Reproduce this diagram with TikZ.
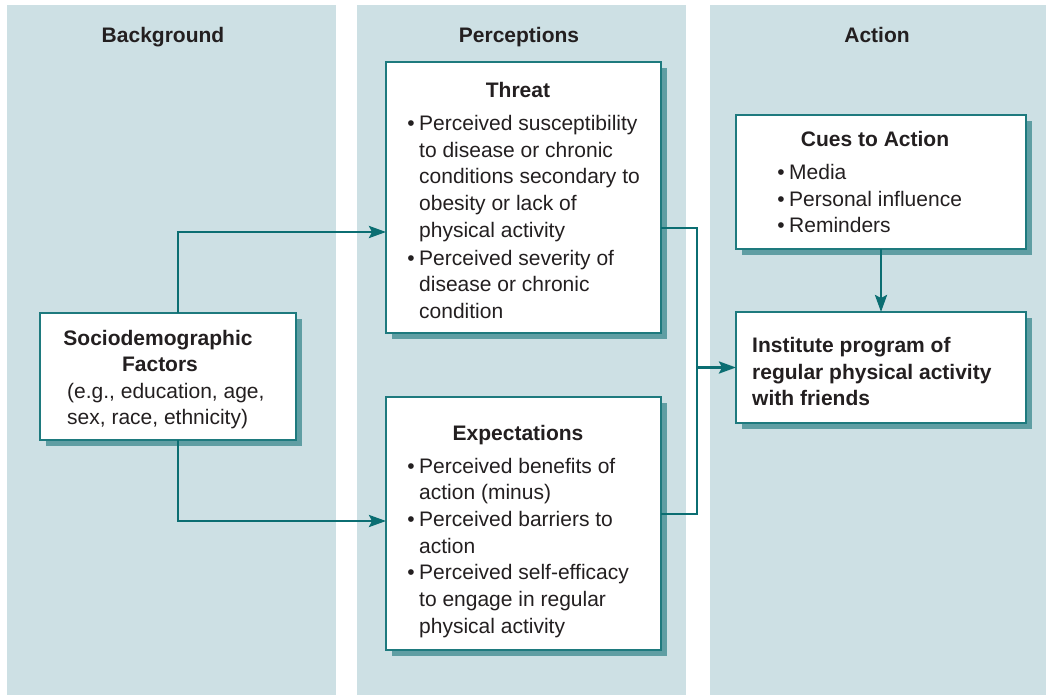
\documentclass[tikz,border=0pt]{standalone}
\usepackage{fontspec}
\setmainfont{Liberation Sans}
\usetikzlibrary{arrows.meta,shadows,calc}
\definecolor{colfill}{HTML}{CDE0E4}
\definecolor{boxline}{HTML}{1E7A7E}
\definecolor{shadowc}{HTML}{5F9EA3}
\definecolor{connc}{HTML}{0B6E72}
\definecolor{txt}{HTML}{231F20}
\newcommand{\bodyfont}{\fontsize{21}{26}\selectfont}
\tikzset{
  column/.style={fill=colfill, draw=none},
  box/.style={draw=boxline, fill=white, line width=1.3pt, anchor=north west,
    inner sep=0pt, outer sep=0pt,
    drop shadow={shadow xshift=6pt, shadow yshift=-6pt, fill=shadowc, opacity=1}},
  conn/.style={draw=connc, line width=2.7pt},
  arr/.style={conn, -{Stealth[length=17pt,width=12pt,inset=3pt]}},
  head/.style={font=\bodyfont\bfseries, text=txt, anchor=base},
  ttl/.style={font=\bodyfont\bfseries, text=txt, anchor=base},
  line/.style={font=\bodyfont, text=txt, anchor=base west, inner sep=0pt},
  bline/.style={font=\bodyfont\bfseries, text=txt, anchor=base west, inner sep=0pt},
  bul/.style={font=\bodyfont, text=txt, anchor=base east, inner sep=0pt, xshift=-4pt},
}
\begin{document}
\begin{tikzpicture}[x=1pt, y=-1pt]
\useasboundingbox (0,0) rectangle (1046,695);
\fill[white] (0,0) rectangle (1046,695);

% three column bands
\path[column] (7,5) rectangle (336,695);
\path[column] (357,5) rectangle (686,695);
\path[column] (710,5) rectangle (1046,695);

\node[head] (hbg) at (163,43) {Background};
\node[head] (hpc) at (519,43) {Perceptions};
\node[head] (hac) at (877,43) {Action};

% boxes
\node[box, minimum width=256pt, minimum height=127pt] (socio) at (40,313) {};
\node[box, minimum width=275pt, minimum height=271pt] (threat) at (386,62) {};
\node[box, minimum width=275pt, minimum height=253pt] (expect) at (386,397) {};
\node[box, minimum width=290pt, minimum height=134pt] (cues) at (736,115) {};
\node[box, minimum width=290pt, minimum height=111pt] (inst) at (736,312) {};

% Sociodemographic text
\node[ttl] (s1) at (158,345) {Sociodemographic};
\node[ttl] (s2) at (160,371) {Factors};
\node[line] (s3) at (67,398) {(e.g., education, age,};
\node[line] (s4) at (67,424) {sex, race, ethnicity)};

% Threat text
\node[ttl] (t0) at (518,98) {Threat};
\node[bul] (tb1) at (419,131) {•};
\node[line] (t1) at (419,131) {Perceived susceptibility};
\node[line] (t2) at (419,158) {to disease or chronic};
\node[line] (t3) at (419,184) {conditions secondary to};
\node[line] (t4) at (419,211) {obesity or lack of};
\node[line] (t5) at (419,237) {physical activity};
\node[bul] (tb2) at (419,265) {•};
\node[line] (t6) at (419,265) {Perceived severity of};
\node[line] (t7) at (419,291) {disease or chronic};
\node[line] (t8) at (419,318) {condition};

% Expectations text
\node[ttl] (e0) at (518,440) {Expectations};
\node[bul] (eb1) at (419,473) {•};
\node[line] (e1) at (419,473) {Perceived benefits of};
\node[line] (e2) at (419,499) {action (minus)};
\node[bul] (eb2) at (419,526) {•};
\node[line] (e3) at (419,526) {Perceived barriers to};
\node[line] (e4) at (419,553) {action};
\node[bul] (eb3) at (419,579) {•};
\node[line] (e5) at (419,579) {Perceived self-efficacy};
\node[line] (e6) at (419,606) {to engage in regular};
\node[line] (e7) at (419,633) {physical activity};

% Cues to Action text
\node[ttl] (c0) at (875,147) {Cues to Action};
\node[bul] (cb1) at (789,179) {•};
\node[line] (c1) at (789,179) {Media};
\node[bul] (cb2) at (789,206) {•};
\node[line] (c2) at (789,206) {Personal influence};
\node[bul] (cb3) at (789,232) {•};
\node[line] (c3) at (789,232) {Reminders};

% Action text
\node[bline] (i1) at (752,352) {Institute program of};
\node[bline] (i2) at (752,379) {regular physical activity};
\node[bline] (i3) at (752,405) {with friends};

% connector anchor points on box edges
\path (socio.north) ++(10,0) coordinate (sn);
\path (socio.south) ++(10,0) coordinate (ss);
\path (threat.north west) ++(0,170) coordinate (tin);
\path (threat.north east) ++(0,166) coordinate (tout);
\path (expect.north west) ++(0,124) coordinate (ein);
\path (expect.north east) ++(0,117) coordinate (eout);
\path (tout) ++(36,0) coordinate (bus);

% connectors
\draw[arr] (sn) |- (tin);
\draw[arr] (ss) |- (ein);
\draw[conn] (tout) -- (bus) |- (eout);
\draw[arr] (inst.west -| bus) -- (inst.west);
\draw[arr] (cues.south) -- (inst.north);
\end{tikzpicture}
\end{document}
